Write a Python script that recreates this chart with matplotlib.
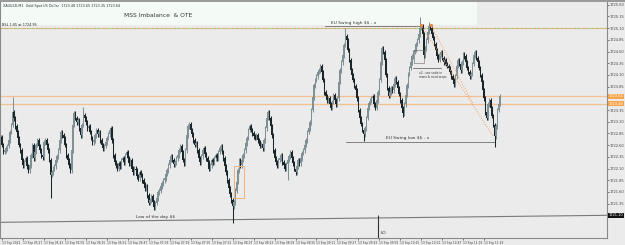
import numpy as np
import matplotlib.pyplot as plt
from matplotlib.patches import Rectangle

plt.rcParams['text.parse_math'] = False

# XAUUSD M1 closes, one per candle
closes = [
    1722.77, 1722.60, 1722.45, 1722.49, 1722.53, 1722.58, 1722.70, 1722.88, 1723.03, 1723.30, 1723.17, 1723.00, 1722.88, 1722.75, 1722.60, 1722.49,
    1722.28, 1722.17, 1722.23, 1722.32, 1722.15, 1722.06, 1722.17, 1722.38, 1722.60, 1722.32, 1722.45, 1722.60, 1722.70, 1722.58, 1722.49, 1722.38,
    1722.34, 1722.66, 1722.70, 1722.60, 1722.49, 1722.28, 1721.96, 1722.02, 1722.10, 1722.15, 1722.28, 1722.36, 1722.49, 1722.70, 1722.88, 1722.81,
    1722.75, 1722.60, 1722.38, 1722.28, 1722.17, 1722.06, 1722.49, 1723.03, 1723.28, 1723.18, 1723.09, 1723.13, 1722.96, 1722.81, 1723.03, 1723.24,
    1723.18, 1723.09, 1722.96, 1723.00, 1722.88, 1722.75, 1722.66, 1722.70, 1722.81, 1722.92, 1722.83, 1722.88, 1722.70, 1722.60, 1722.53, 1722.58,
    1722.66, 1722.75, 1722.83, 1722.92, 1722.96, 1722.70, 1722.38, 1722.23, 1722.17, 1722.10, 1722.21, 1722.15, 1722.28, 1722.32, 1722.23, 1722.38,
    1722.45, 1722.32, 1722.21, 1722.28, 1722.10, 1722.02, 1722.10, 1722.06, 1721.93, 1721.89, 1722.02, 1721.96, 1721.85, 1721.76, 1721.68, 1721.72,
    1721.53, 1721.36, 1721.42, 1721.51, 1721.38, 1721.27, 1721.36, 1721.46, 1721.59, 1721.63, 1721.72, 1721.78, 1721.85, 1721.89, 1721.98, 1722.06,
    1722.17, 1722.28, 1722.36, 1722.28, 1722.19, 1722.23, 1722.32, 1722.38, 1722.49, 1722.58, 1722.45, 1722.28, 1722.21, 1722.49, 1722.81, 1723.00,
    1723.05, 1722.92, 1722.83, 1722.70, 1722.60, 1722.64, 1722.49, 1722.32, 1722.23, 1722.36, 1722.49, 1722.53, 1722.40, 1722.32, 1722.23, 1722.10,
    1722.17, 1722.28, 1722.23, 1722.32, 1722.38, 1722.32, 1722.45, 1722.53, 1722.58, 1722.45, 1722.32, 1722.15, 1722.02, 1721.85, 1721.68, 1721.55,
    1721.42, 1721.29, 1721.38, 1721.63, 1721.81, 1722.06, 1722.28, 1722.17, 1722.28, 1722.38, 1722.49, 1722.64, 1722.75, 1722.92, 1723.00, 1722.92,
    1722.85, 1722.79, 1722.75, 1722.81, 1722.70, 1722.66, 1722.58, 1722.62, 1722.53, 1722.70, 1722.96, 1723.18, 1723.30, 1723.18, 1723.00, 1722.81,
    1722.49, 1722.32, 1722.23, 1722.17, 1722.28, 1722.32, 1722.38, 1722.23, 1722.17, 1722.10, 1722.19, 1722.28, 1722.36, 1722.45, 1722.32, 1722.21,
    1722.10, 1722.02, 1722.15, 1722.28, 1722.21, 1722.32, 1722.43, 1722.49, 1722.60, 1722.70, 1722.88, 1722.96, 1723.09, 1723.35, 1723.62, 1723.88,
    1723.99, 1724.07, 1724.16, 1724.20, 1724.29, 1724.16, 1723.99, 1723.73, 1723.65, 1723.56, 1723.60, 1723.47, 1723.39, 1723.52, 1723.67, 1723.56,
    1723.47, 1723.60, 1723.95, 1724.20, 1724.37, 1724.52, 1724.74, 1724.93, 1724.84, 1724.63, 1724.42, 1724.20, 1724.10, 1723.99, 1723.86, 1723.77,
    1723.60, 1723.35, 1723.18, 1723.05, 1722.92, 1722.83, 1722.96, 1723.18, 1723.39, 1723.50, 1723.56, 1723.60, 1723.65, 1723.47, 1723.39, 1723.56,
    1723.73, 1723.99, 1724.37, 1724.67, 1724.59, 1724.42, 1724.10, 1723.82, 1723.65, 1723.73, 1723.82, 1723.77, 1723.90, 1724.03, 1723.95, 1723.82,
    1723.69, 1723.56, 1723.39, 1723.28, 1723.47, 1723.67, 1723.88, 1724.12, 1724.25, 1724.37, 1724.50, 1724.59, 1724.63, 1724.76, 1724.84, 1724.97,
    1725.10, 1725.14, 1724.97, 1724.52, 1724.67, 1724.84, 1725.02, 1725.14, 1725.10, 1724.97, 1724.89, 1724.76, 1724.63, 1724.50, 1724.42, 1724.54,
    1724.59, 1724.46, 1724.37, 1724.42, 1724.33, 1724.29, 1724.25, 1724.16, 1724.07, 1723.99, 1723.90, 1724.07, 1724.29, 1724.42, 1724.33, 1724.20,
    1724.37, 1724.54, 1724.50, 1724.37, 1724.25, 1724.16, 1724.07, 1724.12, 1724.33, 1724.52, 1724.59, 1724.46, 1724.37, 1724.25, 1724.10, 1723.95,
    1723.77, 1723.60, 1723.30, 1723.18, 1723.47, 1723.56, 1723.39, 1723.22, 1723.03, 1722.79, 1723.00, 1723.35, 1723.48, 1723.64,
]
first_open = 1722.70
spike_highs = {9: 1723.62, 63: 1723.41, 263: 1725.10, 320: 1725.34, 327: 1725.23}
spike_lows = {38: 1721.48, 177: 1720.93, 219: 1721.85, 277: 1722.68, 307: 1723.20, 377: 1722.55}

price_ticks = [1725.60, 1725.35, 1725.10, 1724.85, 1724.60, 1724.35, 1724.10, 1723.85,
               1723.35, 1723.10, 1722.85, 1722.60, 1722.35, 1722.10, 1721.85, 1721.60, 1721.35]
time_labels = ["13 Sep 2022", "13 Sep 05:27", "13 Sep 05:43", "13 Sep 05:59", "13 Sep 06:15",
               "13 Sep 06:31", "13 Sep 06:47", "13 Sep 07:03", "13 Sep 07:19", "13 Sep 07:35",
               "13 Sep 07:51", "13 Sep 08:07", "13 Sep 08:23", "13 Sep 08:39", "13 Sep 08:55",
               "13 Sep 09:11", "13 Sep 09:27", "13 Sep 09:43", "13 Sep 09:59", "13 Sep 10:15",
               "13 Sep 10:31", "13 Sep 10:47", "13 Sep 11:03", "13 Sep 11:19"]
time_idx = [1 + 16 * k for k in range(len(time_labels))]

bsl_level = 1725.10
swing_high = 1725.14
swing_low = 1722.67
bid = 1723.64
day_open = 1723.48
low_day_left, low_day_right = 1720.95, 1721.10

BG = '#ebebeb'
BULL = '#7f9096'
BEAR = '#1b262b'
ORANGE = '#f5c08f'

fig = plt.figure(figsize=(6.25, 2.45), dpi=100, facecolor=BG)
ax = fig.add_axes([0, 7 / 245, 607 / 625, 236 / 245])
ax.set_facecolor(BG)
XMAX = 462.8
ax.set_xlim(-0.6, XMAX)
ax.set_ylim(1720.615, 1725.658)

# top frame strip
fig.patches.append(Rectangle((0, 243 / 245), 1, 2 / 245, transform=fig.transFigure,
                             fc='#9a9a9a', ec='none'))

# mint annotation box
ax.add_patch(Rectangle((-0.6, 1725.166), 364.0, 1, fc='#f4fbf7', ec='none', zorder=0.5))

# candles
c = np.array(closes)
o = np.r_[first_open, c[:-1]]
hi = np.maximum(o, c) + 0.05
lo = np.minimum(o, c) - 0.05
for k, v in spike_highs.items():
    hi[k] = v
for k, v in spike_lows.items():
    lo[k] = v
idx = np.arange(len(c))
cols = np.where(c >= o, BULL, BEAR)
ax.vlines(idx, lo, hi, colors=cols, lw=0.75, zorder=3)
ax.bar(idx, np.maximum(np.abs(c - o), 0.015), bottom=np.minimum(o, c), width=1.0,
       color=cols, linewidth=0, zorder=3)

# horizontal levels
ax.axhline(bsl_level, color='#f0a050', lw=0.8, dashes=(2, 2), zorder=2)
ax.axhline(bsl_level, color='#a8d08c', lw=0.8, linestyle=(2, (2, 2)), zorder=2)
ax.axhline(bid, color=ORANGE, lw=0.9, zorder=2)
ax.axhline(day_open, color=ORANGE, lw=0.9, zorder=2)
ax.plot([-0.6, XMAX], [low_day_left, low_day_right], color='#7a7a7a', lw=0.8, zorder=2)
ax.plot([247.3, 322.1], [swing_high, swing_high], color='#707070', lw=0.6, zorder=2)
ax.plot([263.4, 376.3], [swing_low, swing_low], color='#707070', lw=0.6, zorder=2)
ax.vlines(288.3, 1720.615, 1721.11, color='#333333', lw=0.8, zorder=2)

# imbalance box and fib lines
ax.add_patch(Rectangle((177.9, 1721.47), 7.6, 0.68, fc='none', ec='#f2b27a', lw=0.7, zorder=4))
ax.plot([320.6, 376.3], [1725.17, 1722.77], color='#f0a060', ls=':', lw=0.7, zorder=4)
ax.plot([328.2, 360.3], [1725.17, 1723.50], color='#f0a060', ls=':', lw=0.7, zorder=4)
ax.plot([320.6, 328.2], [1725.17, 1725.17], 'o', color='#f08a40', ms=1.3, zorder=4)
ax.add_patch(Rectangle((315.3, 1724.35), 7.6, 0.28, fc='none', ec='#666666', lw=0.4, zorder=4))
ax.plot([314.5, 335.9], [1724.25, 1724.25], color='#555555', lw=0.5, zorder=4)

# texts
ax.text(1.5, 1725.58, "XAUUSD,M1  Gold Spot US Dollar  1723.48 1723.65 1723.35 1723.64",
        fontsize=2.4, color='#333333', va='center')
ax.text(94, 1725.36, "MSS Imbalance  & OTE", fontsize=4.3, color='#333333', va='center')
ax.text(1.0, bsl_level + 0.03, "BSL 1:05 at 1724.95", fontsize=2.4, color='#222222', va='bottom')
ax.text(252, swing_high + 0.02, "EU Swing high $$ - x", fontsize=3.2, color='#333333', va='bottom')
ax.text(294, swing_low + 0.03, "EU Swing low $$ - x", fontsize=3.2, color='#333333', va='bottom')
ax.text(103, 1721.02, "Low of the day $$", fontsize=3.2, color='#333333', va='bottom')
ax.text(290, 1720.72, "LO", fontsize=3.2, color='#333333', va='center')
ax.text(319, 1724.18, "x2 - see scale in\nmono & mixd oreps", fontsize=2.1, color='#333333',
        va='top', linespacing=1.1)

# axes styling
ax.spines['top'].set_visible(False)
for s in ['left', 'right', 'bottom']:
    ax.spines[s].set_color('#8a8a8a')
    ax.spines[s].set_linewidth(0.8)
ax.yaxis.tick_right()
ax.set_yticks(price_ticks)
ax.set_yticklabels([f"{v:.2f}" for v in price_ticks])
ax.tick_params(axis='y', length=1.5, width=0.5, pad=0.4, labelsize=2.6, colors='#444444')
ax.set_xticks(time_idx)
ax.set_xticklabels(time_labels)
ax.tick_params(axis='x', length=1.5, width=0.5, pad=0.5, labelsize=2.1, colors='#444444')
for lbl in ax.get_xticklabels():
    lbl.set_ha('left')

yt = ax.get_yaxis_transform()
for val, fc in [(bid, '#f7a34a'), (day_open, '#f7a34a'), (low_day_right, '#111111')]:
    ax.text(1.003, val, f"{val:.2f}", transform=yt, fontsize=2.6, color='white', va='center',
            ha='left', clip_on=False, zorder=6,
            bbox=dict(boxstyle='square,pad=0.12', fc=fc, ec='none'))

fig.savefig('out.png', dpi=100, facecolor=BG)
